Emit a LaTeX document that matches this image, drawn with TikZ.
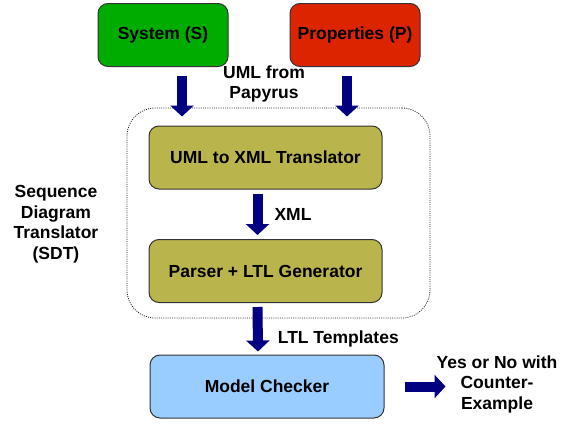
\documentclass[tikz,border=0pt]{standalone}
\usepackage{fontspec}
\setmainfont{Liberation Sans}
\usetikzlibrary{arrows.meta}

\definecolor{sysgreen}{RGB}{0,172,0}
\definecolor{propred}{RGB}{221,36,0}
\definecolor{olivebox}{RGB}{185,181,76}
\definecolor{mcblue}{RGB}{153,204,255}
\definecolor{navyarrow}{RGB}{0,0,128}

\begin{document}
\begin{tikzpicture}[x=1pt,y=-1pt,font=\fontsize{17.5}{20.5}\selectfont\bfseries]
 \tikzstyle{box}    = [draw=black!80,line width=1pt,rounded corners=10pt,inner sep=0pt,minimum height=63pt];
 \tikzstyle{inbox}  = [box,fill=olivebox,minimum width=233pt];
 \tikzstyle{fat}    = [draw=navyarrow,line width=10pt,-{Triangle[width=23pt,length=11pt]}];
 \tikzstyle{lbl}    = [inner sep=0pt,align=center];

 \useasboundingbox (0,0) rectangle (575,423);

 %% inputs
 \node[box,fill=sysgreen,minimum width=130pt,name=sys] at (163,35) {System (S)};
 \node[box,fill=propred,minimum width=130pt,name=props] at (355,35) {Properties (P)};
 \node[lbl,name=papyrus] at (264,84) {UML from\\Papyrus};

 %% translator
 \node[draw=black!85,line width=0.8pt,dash pattern=on 1pt off 1.2pt,rounded corners=28pt,
       minimum width=303pt,minimum height=210pt,name=sdtbox] at (278.5,213) {};
 \node[inbox,name=uml] at (265.5,157.5) {UML to XML Translator};
 \node[inbox,name=parser] at (265.5,271) {Parser + LTL Generator};
 \node[lbl,name=sdt] at (56,224) {Sequence\\Diagram\\Translator\\(SDT)};

 %% checker
 \node[box,fill=mcblue,minimum width=234pt,name=mc] at (267,386.5) {Model Checker};
 \node[lbl,name=result] at (497,384) {Yes or No with\\Counter-\\Example};

 \draw[fat,shorten <=9pt,shorten >=9pt] ([xshift=19pt]sys.south) -- ([xshift=19pt]sys.south |- uml.north);
 \draw[fat,shorten <=9pt,shorten >=9pt] ([xshift=-8pt]props.south) -- ([xshift=-8pt]props.south |- uml.north);
 \draw[fat,shorten <=4pt,shorten >=4pt] ([xshift=-8pt]uml.south) -- ([xshift=-8pt]parser.north)
   node[lbl,right,midway,xshift=12pt] {XML};
 \draw[fat,shorten <=4pt,shorten >=3pt] ([xshift=-8pt]parser.south) -- ([xshift=-9pt]mc.north)
   node[lbl,right,pos=0.7,xshift=15pt] {LTL Templates};
 \draw[fat,shorten <=20pt,shorten >=-9pt] (mc.east) -- (mc.east -| result.west);

\end{tikzpicture}
\end{document}
